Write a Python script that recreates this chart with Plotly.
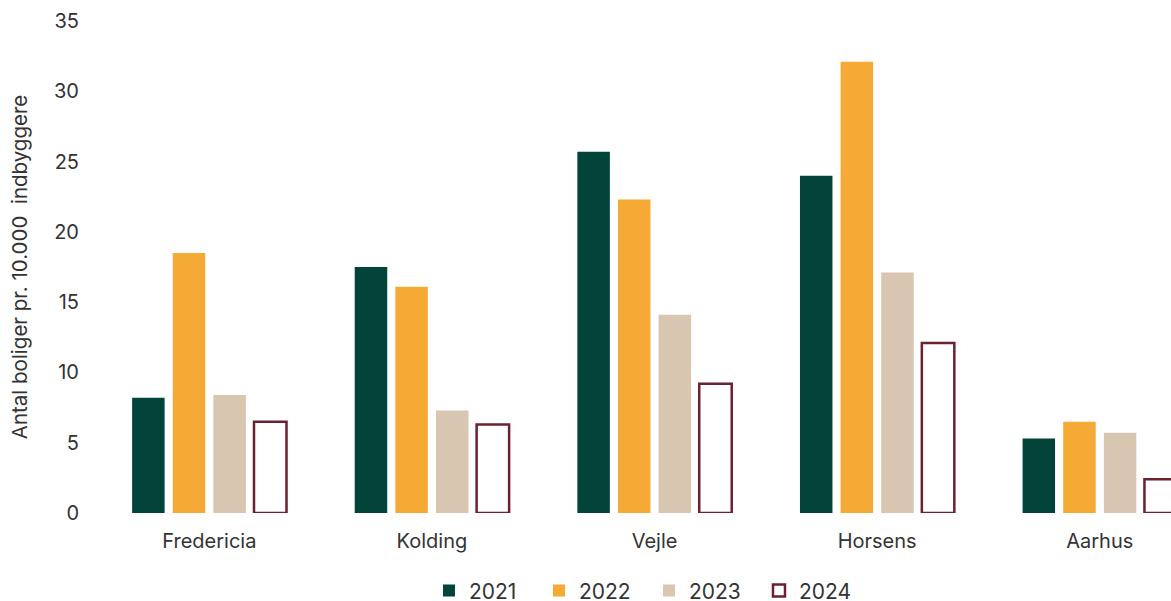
import plotly.graph_objects as go

categories = ["Fredericia", "Kolding", "Vejle", "Horsens", "Aarhus"]
years = ["2021", "2022", "2023", "2024"]
v2021 = [8.2, 17.5, 25.7, 24.0, 5.3]
v2022 = [18.5, 16.1, 22.3, 32.1, 6.5]
v2023 = [8.4, 7.3, 14.1, 17.1, 5.7]
v2024 = [6.5, 6.3, 9.2, 12.1, 2.4]
y_ticks = [0, 5, 10, 15, 20, 25, 30, 35]

FONT = "Inter"
TXT = "#333333"

series = [v2021, v2022, v2023, v2024]
fills = ["#02443a", "#f4aa35", "#d9c6b0", "#ffffff"]
lines = ["#02443a", "#f4aa35", "#d9c6b0", "#6b2130"]
lws = [0, 0, 0, 2.5]

fig = go.Figure()
for yr, vals, fc, lc, lw in zip(years, series, fills, lines, lws):
    fig.add_trace(go.Bar(
        x=categories, y=vals, name=yr,
        marker=dict(color=fc, line=dict(color=lc, width=lw)),
    ))

fig.update_layout(
    width=1171, height=601,
    margin=dict(l=98, r=0, t=21, b=88, autoexpand=False),
    paper_bgcolor="white", plot_bgcolor="white",
    barmode="group", bargap=0.27, bargroupgap=0.2,
    font=dict(family=FONT, size=20, color=TXT),
    showlegend=True,
    legend=dict(orientation="h", x=0.5135, xanchor="center", y=-0.158, yanchor="middle",
                font=dict(size=21, color=TXT), itemwidth=30, entrywidth=65,
                borderwidth=0, traceorder="normal"),
    xaxis=dict(range=[-0.5, 4.32], showgrid=False, showline=False, zeroline=False,
               ticks="", ticklabelstandoff=14, tickfont=dict(size=20, color=TXT)),
    yaxis=dict(range=[0, 35], tickvals=y_ticks, showgrid=False, showline=False, zeroline=False,
               ticks="", ticklabelstandoff=18, tickfont=dict(size=20, color=TXT),
               title=dict(text="Antal boliger pr. 10.000  indbyggere", standoff=20,
                          font=dict(size=20.5, color=TXT))),
)

fig.write_html("out.html", config={"displayModeBar": False},
               post_script="document.body.style.margin='0px';document.body.style.overflow='hidden';")
